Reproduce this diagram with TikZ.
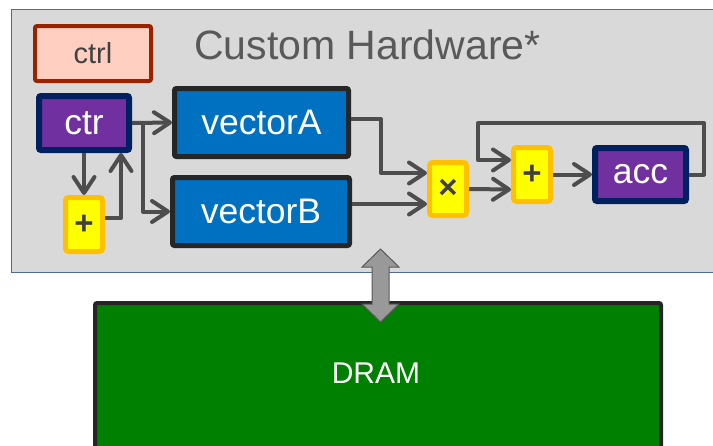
\documentclass[tikz,border=0pt]{standalone}
\usepackage{fontspec}
\setmainfont{Liberation Sans}
\usetikzlibrary{arrows.meta,calc}
\definecolor{panel}{HTML}{D9D9D9}
\definecolor{panelline}{HTML}{4F6A96}
\definecolor{wire}{HTML}{4D4D4D}
\definecolor{ctrlfill}{HTML}{FFD0C2}
\definecolor{ctrlline}{HTML}{992200}
\definecolor{regfill}{HTML}{7030A0}
\definecolor{regline}{HTML}{002060}
\definecolor{memfill}{HTML}{0070C0}
\definecolor{boxline}{HTML}{262626}
\definecolor{alufill}{HTML}{FFFF00}
\definecolor{aluline}{HTML}{FFC000}
\definecolor{dramfill}{HTML}{008000}
\definecolor{txtdark}{HTML}{404040}
\definecolor{titlegray}{HTML}{595959}
\begin{document}
\begin{tikzpicture}[x=1pt,y=-1pt,
  lbl/.style={font=\fontsize{35.5}{40}\selectfont},
  regbox/.style={draw=regline,fill=regfill,line width=6pt,rounded corners=2pt,
    text=white,lbl,inner sep=0pt},
  membox/.style={draw=boxline,fill=memfill,line width=5pt,rounded corners=2pt,
    text=white,lbl,inner sep=0pt,minimum height=68pt},
  alubox/.style={draw=aluline,fill=alufill,line width=5pt,rounded corners=3pt,
    text=txtdark,font=\fontsize{33}{36}\selectfont\bfseries,inner sep=0pt,
    minimum width=37pt,minimum height=54pt},
  arr/.style={draw=wire,line width=4pt,line join=round,
    -{Straight Barb[length=16pt,width=21pt,round]}},
  wireline/.style={draw=wire,line width=4pt,line join=round}]
\useasboundingbox (0,0) rectangle (713,445);

% hardware panel
\node[draw=panelline,fill=panel,line width=1pt,minimum width=709pt,minimum height=263pt,
  anchor=north west,inner sep=0pt] (hw) at (11,9) {};
\node[anchor=west,text=titlegray,font=\fontsize{41}{44}\selectfont,inner sep=0pt]
  (title) at (194,45) {Custom Hardware*};

% blocks
\node[draw=ctrlline,fill=ctrlfill,line width=4pt,rounded corners=2pt,text=txtdark,
  font=\fontsize{29}{34}\selectfont,minimum width=116pt,minimum height=55pt,inner sep=0pt]
  (ctrl) at (93,53.5) {ctrl};
\node[regbox,minimum width=90pt,minimum height=54pt] (ctr) at (84,123) {ctr};
\node[membox,minimum width=174pt] (vecA) at (261.5,122.5) {vectorA};
\node[membox,minimum width=177pt] (vecB) at (261,211.5) {vectorB};
\node[alubox] (inc) at (84,224.5) {+};
\node[alubox,minimum height=53pt] (mul) at (448,189) {×};
\node[alubox] (add) at (532,174.5) {+};
\node[regbox,minimum width=91pt,minimum height=53pt] (acc) at (640.5,174.5) {acc};

% DRAM
\node[draw=boxline,fill=dramfill,line width=4pt,rounded corners=2pt,
  minimum width=566pt,minimum height=160pt,inner sep=0pt,anchor=north west]
  (dram) at (93,301) {};
\node[text=white,font=\fontsize{30}{34}\selectfont,inner sep=0pt] (dramtxt) at (376,373) {DRAM};

% counter loop
\draw[arr] (ctr.south) -- (inc.north);
\coordinate (incret) at (121,218);
\draw[arr] (inc.east |- incret) -- (incret) -- (incret |- ctr.south);

% address fan-out
\coordinate (fork) at (143,123);
\draw[arr] (ctr.east) -- (vecA.west);
\draw[arr] (fork) |- (vecB.west);

% datapath
\coordinate (mulA) at ($(mul.west)+(0,-16)$);
\coordinate (mulB) at ($(mul.west)+(0,15)$);
\draw[arr] (vecA.east |- 0,119) -- (381,119) |- (mulA);
\draw[arr] (vecB.east |- mulB) -- (mulB);
\coordinate (addA) at ($(add.west)+(0,-14.5)$);
\coordinate (addB) at ($(add.west)+(0,15)$);
\draw[arr] (mul.east) -- (addB);
\draw[arr] (add.east) -- (acc.west);
\draw[arr] (acc.east) -- ++(15,0) |- (478,123) |- (addA);

% memory link
\draw[draw=titlegray,fill=black!40,line width=1pt,line join=miter]
  (380.5,249) -- (399,267) -- (389,267) -- (389,304) -- (399,304) -- (380.5,322)
  -- (362,304) -- (372,304) -- (372,267) -- (362,267) -- cycle;
\end{tikzpicture}
\end{document}
